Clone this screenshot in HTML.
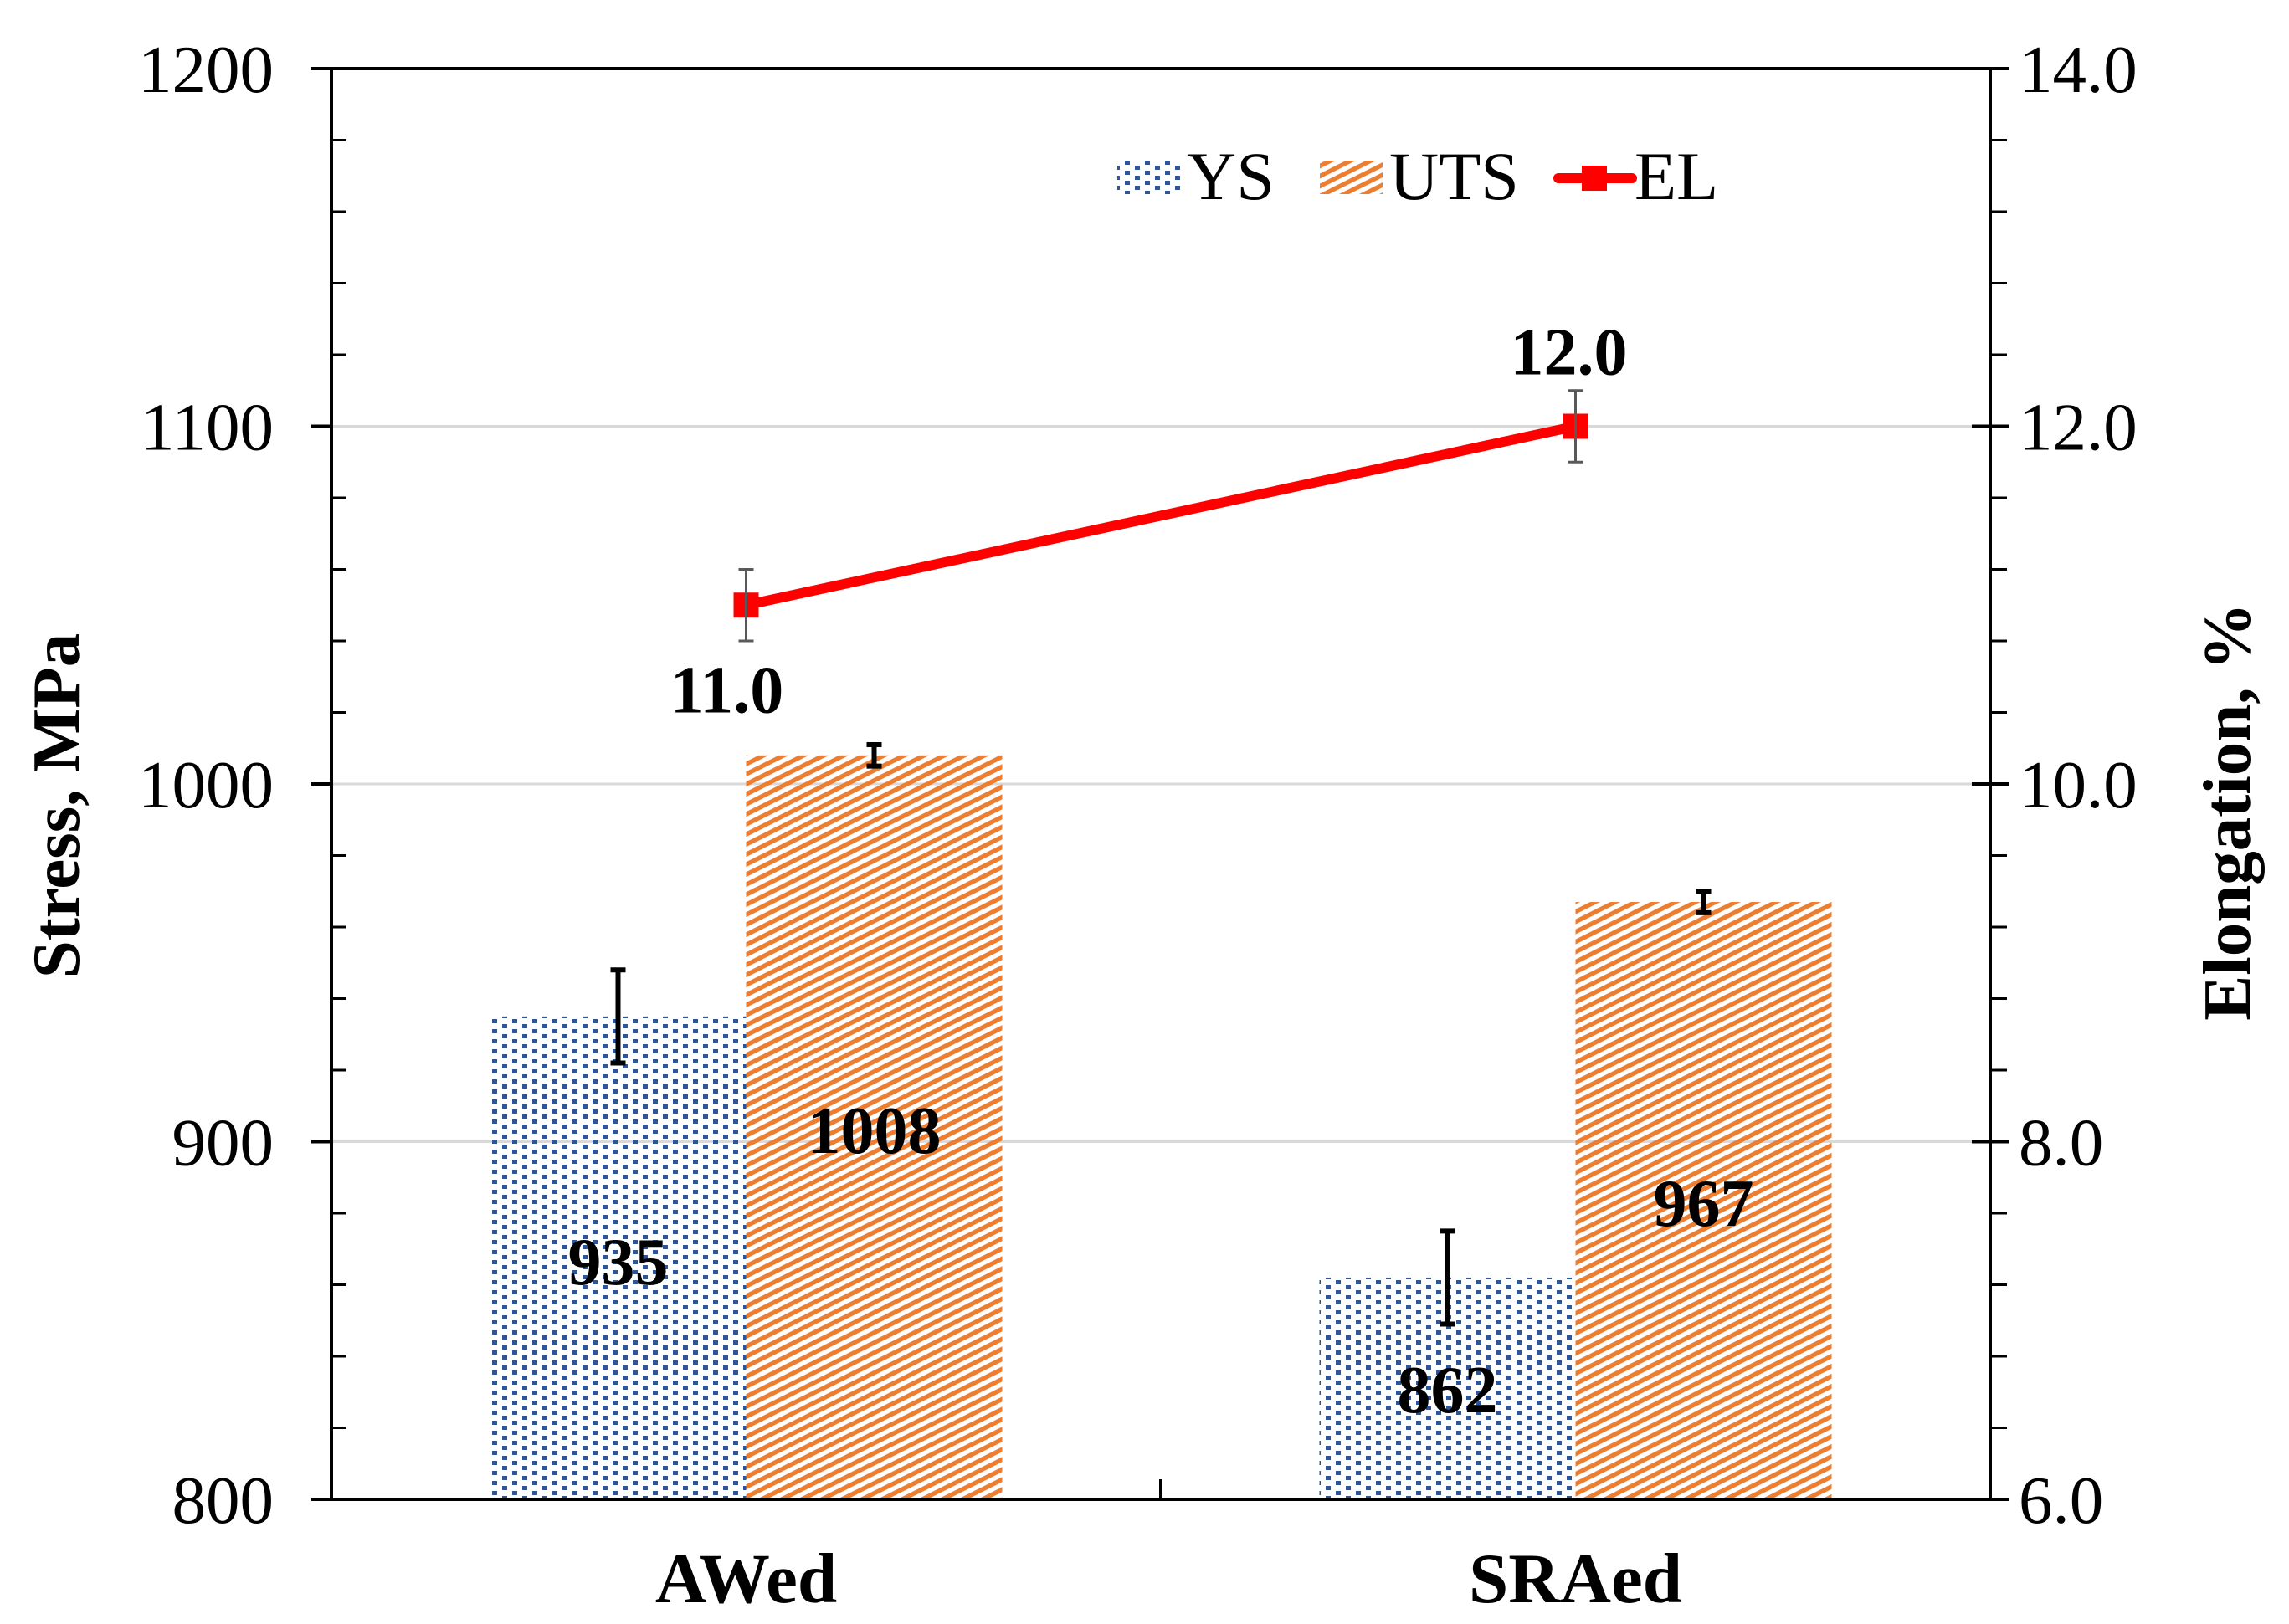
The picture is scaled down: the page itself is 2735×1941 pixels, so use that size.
<!DOCTYPE html>
<html><head><meta charset="utf-8"><style>
html,body{margin:0;padding:0;background:#fff}
svg{display:block}
text{font-family:"Liberation Serif","Times New Roman",serif;fill:#000}
</style></head><body>
<svg id="chart" width="2735" height="1941" viewBox="0 0 2735 1941" xmlns="http://www.w3.org/2000/svg">
<defs>
<pattern id="dots" patternUnits="userSpaceOnUse" width="24" height="12">
<rect x="0" y="0" width="6" height="5" fill="#2F5597"/>
<rect x="12" y="6" width="6" height="5" fill="#2F5597"/>
</pattern>
<pattern id="stripes" patternUnits="userSpaceOnUse" width="24" height="12">
<polygon points="0,0 12,0 0,6" fill="#ED7D31"/>
<polygon points="0,12 24,0 24,6 12,12" fill="#ED7D31"/>
</pattern>
</defs>
<g id="grid"></g>
<g id="bars"></g>
<g id="axes"></g>
<g id="line"></g>
<g id="labels"></g>
<text x="0" y="0" transform="translate(94,963) rotate(-90)" text-anchor="middle" font-size="81" font-weight="bold">Stress, MPa</text>
<text x="0" y="0" transform="translate(2688,970) rotate(-90)" text-anchor="middle" font-size="81" font-weight="bold">Elongation, %</text>
<g>
<rect x="1335" y="192" width="75" height="40" fill="url(#dots)"/>
<text x="1418" y="238" font-size="82">YS</text>
<rect x="1577" y="192" width="75" height="40" fill="url(#stripes)"/>
<text x="1660" y="238" font-size="82">UTS</text>
<line x1="1862" y1="213" x2="1950" y2="213" stroke="#FF0000" stroke-width="12" stroke-linecap="round"/>
<rect x="1890" y="198" width="30" height="30" fill="#FF0000"/>
<text x="1953" y="238" font-size="82">EL</text>
</g>
</svg>
<script>
const categories = ["AWed", "SRAed"];
const ysValues = [935, 862];
const ysErr = [13, 13];
const utsValues = [1008, 967];
const utsErr = [3, 3];
const elValues = [11.0, 12.0];
const elErr = [0.2, 0.2];
const yTicks = ["800", "900", "1000", "1100", "1200"];
const y2Ticks = ["6.0", "8.0", "10.0", "12.0", "14.0"];

const NS = "http://www.w3.org/2000/svg";
const L = 396, R = 2378, T = 82, B = 1792;
const yMin = 800, yMax = 1200, y2Min = 6, y2Max = 14;
const y = v => B - (v - yMin) / (yMax - yMin) * (B - T);
const y2 = v => B - (v - y2Min) / (y2Max - y2Min) * (B - T);
const catW = (R - L) / categories.length;
const cx = i => L + catW * (i + 0.5);
const barW = 306;
const ysLabelOff = [320, 161];
const utsLabelOff = [475, 387];

function mk(tag, attrs, parent, txt) {
  const e = document.createElementNS(NS, tag);
  for (const k in attrs) e.setAttribute(k, attrs[k]);
  if (txt !== undefined) e.textContent = txt;
  parent.appendChild(e);
  return e;
}
const grid = document.getElementById('grid');
const bars = document.getElementById('bars');
const axes = document.getElementById('axes');
const line = document.getElementById('line');
const labels = document.getElementById('labels');

for (let v = 900; v < yMax; v += 100) {
  const g = mk('line', {x1: L, x2: R, y1: y(v), y2: y(v), stroke: '#D9D9D9', 'stroke-width': 3}, grid);
  
  
}

function errBar(x, top, bot, color, w, cap, name) {
  const g = mk('g', {}, labels);
  
  
  mk('line', {x1: x, x2: x, y1: top, y2: bot, stroke: color, 'stroke-width': w}, g);
  mk('line', {x1: x - cap, x2: x + cap, y1: top, y2: top, stroke: color, 'stroke-width': w}, g);
  mk('line', {x1: x - cap, x2: x + cap, y1: bot, y2: bot, stroke: color, 'stroke-width': w}, g);
}

categories.forEach((c, i) => {
  const xc = cx(i);
  const b1 = mk('rect', {x: xc - barW, y: y(ysValues[i]), width: barW, height: B - y(ysValues[i]), fill: 'url(#dots)'}, bars);
  
  
  const b2 = mk('rect', {x: xc, y: y(utsValues[i]), width: barW, height: B - y(utsValues[i]), fill: 'url(#stripes)'}, bars);
  
  
  errBar(xc - barW / 2, y(ysValues[i] + ysErr[i]), y(ysValues[i] - ysErr[i]), '#000', 6, 9, 'error-bar-ys');
  errBar(xc + barW / 2, y(utsValues[i] + utsErr[i]), y(utsValues[i] - utsErr[i]), '#000', 6, 9, 'error-bar-uts');
  const t1 = mk('text', {x: xc - barW / 2, y: y(ysValues[i]) + ysLabelOff[i], 'text-anchor': 'middle', 'font-size': 80, 'font-weight': 'bold'}, labels, String(ysValues[i]));
  
  
  const t2 = mk('text', {x: xc + barW / 2, y: y(utsValues[i]) + utsLabelOff[i], 'text-anchor': 'middle', 'font-size': 80, 'font-weight': 'bold'}, labels, String(utsValues[i]));
  
  
  const ct = mk('text', {x: xc, y: 1915, 'text-anchor': 'middle', 'font-size': 85, 'font-weight': 'bold'}, axes, c);
  
  
});

mk('line', {x1: L, x2: L, y1: T, y2: B, stroke: '#000', 'stroke-width': 4}, axes);
mk('line', {x1: R, x2: R, y1: T, y2: B, stroke: '#000', 'stroke-width': 4}, axes);
mk('line', {x1: L - 24, x2: R + 20, y1: B, y2: B, stroke: '#000', 'stroke-width': 4}, axes);
mk('line', {x1: L, x2: R, y1: T, y2: T, stroke: '#000', 'stroke-width': 4}, axes);
mk('line', {x1: (L + R) / 2, x2: (L + R) / 2, y1: B, y2: B - 24, stroke: '#000', 'stroke-width': 4}, axes);
for (let v = yMin; v <= yMax; v += 20) {
  const major = (v % 100 === 0);
  if (major) mk('line', {x1: L - 24, x2: L, y1: y(v), y2: y(v), stroke: '#000', 'stroke-width': 4}, axes);
  else mk('line', {x1: L, x2: L + 18, y1: y(v), y2: y(v), stroke: '#000', 'stroke-width': 3}, axes);
}
yTicks.forEach(s => {
  const t = mk('text', {x: 327, y: y(+s) + 28, 'text-anchor': 'end', 'font-size': 81}, axes, s);
  
  
});
for (let k = 0; k <= 20; k++) {
  const v = y2Min + k * 0.4;
  const major = (k % 5 === 0);
  if (major) mk('line', {x1: R - 22, x2: R + 22, y1: y2(v), y2: y2(v), stroke: '#000', 'stroke-width': 4}, axes);
  else mk('line', {x1: R, x2: R + 20, y1: y2(v), y2: y2(v), stroke: '#000', 'stroke-width': 3}, axes);
}
y2Ticks.forEach(s => {
  const t = mk('text', {x: 2412, y: y2(+s) + 28, 'font-size': 81}, axes, s);
  
  
});

const pts = elValues.map((v, i) => cx(i) + ',' + y2(v)).join(' ');
const pl = mk('polyline', {points: pts, fill: 'none', stroke: '#FF0000', 'stroke-width': 12, 'stroke-linejoin': 'round'}, line);


elValues.forEach((v, i) => {
  errBar(cx(i), y2(v + elErr[i]), y2(v - elErr[i]), '#595959', 3, 9, 'error-bar-el');
  const m = mk('rect', {x: cx(i) - 15, y: y2(v) - 15, width: 30, height: 30, fill: '#FF0000'}, line);
  
  
  const off = i === 0 ? 128 : -62;
  const t = mk('text', {x: cx(i) - (i === 0 ? 23 : 8), y: y2(v) + off, 'text-anchor': 'middle', 'font-size': 80, 'font-weight': 'bold'}, labels, v.toFixed(1));
  
  
});
</script>
</body></html>
